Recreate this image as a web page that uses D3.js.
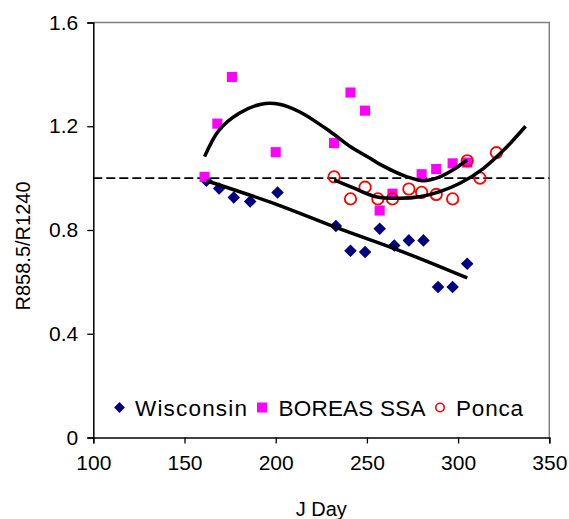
<!DOCTYPE html>
<html>
<head>
<meta charset="utf-8">
<script src="https://cdn.jsdelivr.net/npm/d3@7"></script>
<style>
  body { margin: 0; background: #fff; }
  svg text { font-family: "Liberation Sans", Arial, sans-serif; fill: #000; }
</style>
</head>
<body>
<div id="chart"></div>
<script>
// Wisconsin (diamonds)
const wiscDay = [162, 169, 177, 186, 201, 233, 241, 249, 257, 265, 273, 281, 289, 297, 305]
const wiscVal = [0.99, 0.96, 0.925, 0.91, 0.945, 0.815, 0.72, 0.715, 0.805, 0.74, 0.76, 0.76, 0.58, 0.58, 0.67]

// BOREAS SSA (squares)
const borDay = [161, 168, 176, 200, 232, 241, 249, 257, 264, 280, 288, 297, 305]
const borVal = [1.005, 1.21, 1.39, 1.10, 1.135, 1.33, 1.26, 0.875, 0.94, 1.015, 1.035, 1.057, 1.06]

// Ponca (open circles)
const poncaDay = [232, 241, 249, 256, 264, 273, 280, 288, 297, 305, 312, 321]
const poncaVal = [1.005, 0.92, 0.965, 0.92, 0.92, 0.958, 0.945, 0.937, 0.92, 1.067, 1.0, 1.098]

// trend lines
const wiscTrend = [[162, 0.99], [200, 0.90], [233, 0.81], [270, 0.715], [305, 0.615]]
const borTrend = [[161, 1.083], [169, 1.185], [180, 1.25], [192, 1.285], [202, 1.285], [213, 1.256],
  [230, 1.179], [241, 1.121], [252, 1.076], [258, 1.05], [272, 1.005], [281, 0.99], [290, 1.005],
  [297, 1.031], [305, 1.07]]
const poncaTrend = [[232, 0.993], [243, 0.961], [255, 0.928], [268, 0.922], [279, 0.928], [290, 0.948],
  [301, 0.98], [314, 1.038], [325, 1.108], [337, 1.2]]

const xTicks = [100, 150, 200, 250, 300, 350]
const yTicks = [0, 0.4, 0.8, 1.2, 1.6]
const refLine = 1.0

const width = 569, height = 519
const margin = { top: 22.5, right: 20, bottom: 81.5, left: 93.3 }

const svg = d3.select("#chart").append("svg")
  .attr("width", width)
  .attr("height", height)

const x = d3.scaleLinear().domain([100, 350]).range([margin.left, 549.3])
const y = d3.scaleLinear().domain([0, 1.6]).range([height - margin.bottom, margin.top])

// plot area border (grey top/right)
svg.append("path")
  .attr("d", `M${x(100)},${y(1.6)}H${x(350)}V${y(0)}`)
  .attr("fill", "none")
  .attr("stroke", "#808080")
  .attr("stroke-width", 1.5)

// axes
const xAxis = svg.append("g")
  .attr("transform", `translate(0,${y(0)})`)
  .call(d3.axisBottom(x).tickValues(xTicks).tickSize(6).tickPadding(12).tickFormat(d3.format("d")))
const yAxis = svg.append("g")
  .attr("transform", `translate(${x(100)},0)`)
  .call(d3.axisLeft(y).tickValues(yTicks).tickSize(6).tickPadding(9).tickFormat(d => d === 0 ? "0" : d3.format(".1f")(d)))

;[xAxis, yAxis].forEach(g => {
  g.selectAll("path.domain").attr("stroke", "#000").attr("stroke-width", 1.5)
  g.selectAll(".tick line").attr("stroke", "#000").attr("stroke-width", 1.3)
  g.selectAll(".tick text").attr("font-size", "21px").attr("font-family", "Liberation Sans, Arial, sans-serif").attr("fill", "#000")
})

// axis titles
svg.append("text")
  .attr("x", (x(100) + x(350)) / 2)
  .attr("y", 516)
  .attr("text-anchor", "middle")
  .attr("font-size", "20px")
  .text("J Day")

svg.append("text")
  .attr("transform", `translate(30,${246}) rotate(-90)`)
  .attr("text-anchor", "middle")
  .attr("font-size", "20px")
  .text("R858.5/R1240")

// dashed reference line
svg.append("line")
  .attr("x1", x(100)).attr("x2", x(350))
  .attr("y1", y(refLine)).attr("y2", y(refLine))
  .attr("stroke", "#000")
  .attr("stroke-width", 1.8)
  .attr("stroke-dasharray", "9,4")

const diamond = d3.symbol().type(d3.symbolDiamond2)
const square = d3.symbol().type(d3.symbolSquare2)

// Wisconsin
svg.append("g").selectAll("path")
  .data(wiscDay.map((d, i) => [d, wiscVal[i]]))
  .enter().append("path")
  .attr("d", diamond.size(100)())
  .attr("transform", d => `translate(${x(d[0])},${y(d[1])})`)
  .attr("fill", "#000080")

// BOREAS
svg.append("g").selectAll("path")
  .data(borDay.map((d, i) => [d, borVal[i]]))
  .enter().append("path")
  .attr("d", square.size(130)())
  .attr("transform", d => `translate(${x(d[0])},${y(d[1])})`)
  .attr("fill", "#ff00ff")

// Ponca
svg.append("g").selectAll("circle")
  .data(poncaDay.map((d, i) => [d, poncaVal[i]]))
  .enter().append("circle")
  .attr("cx", d => x(d[0]))
  .attr("cy", d => y(d[1]))
  .attr("r", 5.7)
  .attr("fill", "none")
  .attr("stroke", "#ff0000")
  .attr("stroke-width", 1.8)

// trend lines
const line = d3.line()
  .x(d => x(d[0]))
  .y(d => y(d[1]))
  .curve(d3.curveCatmullRom)

;[wiscTrend, borTrend, poncaTrend].forEach(t => {
  svg.append("path")
    .attr("d", line(t))
    .attr("fill", "none")
    .attr("stroke", "#000")
    .attr("stroke-width", 3.5)
    .attr("stroke-linejoin", "round")
})

// legend
const legend = svg.append("g")
const ly = 407.5
legend.append("path")
  .attr("d", diamond.size(75)())
  .attr("transform", `translate(119.5,${ly})`)
  .attr("fill", "#000080")
legend.append("text").attr("x", 135).attr("y", ly + 8).attr("font-size", "22.5px")
  .attr("textLength", 112).attr("lengthAdjust", "spacing").text("Wisconsin")

legend.append("rect")
  .attr("x", 257).attr("y", ly - 5).attr("width", 10).attr("height", 10)
  .attr("fill", "#ff00ff")
legend.append("text").attr("x", 278.5).attr("y", ly + 8).attr("font-size", "22.5px")
  .attr("textLength", 147).attr("lengthAdjust", "spacing").text("BOREAS SSA")

legend.append("circle")
  .attr("cx", 440).attr("cy", ly).attr("r", 4.2)
  .attr("fill", "none").attr("stroke", "#ff0000").attr("stroke-width", 1.6)
legend.append("text").attr("x", 456).attr("y", ly + 8).attr("font-size", "22.5px")
  .attr("textLength", 67).attr("lengthAdjust", "spacing").text("Ponca")
</script>
</body>
</html>
